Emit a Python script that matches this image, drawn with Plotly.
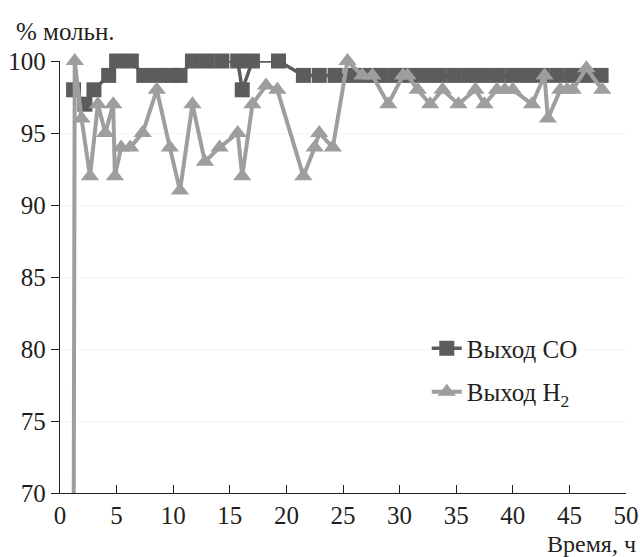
import plotly.graph_objects as go

# ---- data ----
co_time = [1.2, 2.2, 3.0, 4.3, 5.0, 6.3, 7.4, 8.7, 9.9, 10.6, 11.7, 13.0, 14.3, 15.7, 16.1, 17.0, 19.3,
           21.5, 22.9, 24.3, 25.7, 27.0, 28.3, 29.6, 30.9, 32.2, 33.5, 34.8, 36.1, 37.4, 38.7, 40.0,
           41.3, 42.6, 43.9, 45.2, 46.5, 47.8]
co_yield = [98, 97, 98, 99, 100, 100, 99, 99, 99, 99, 100, 100, 100, 100, 98, 100, 100,
            99, 99, 99, 99, 99, 99, 99, 99, 99, 99, 99, 99, 99, 99, 99,
            99, 99, 99, 99, 99, 99]

h2_time = [1.2, 1.3, 1.9, 2.65, 3.35, 4.0, 4.7, 4.85, 5.4, 6.2, 7.3, 8.55, 9.7, 10.6, 11.7, 12.8, 14.1,
           15.7, 16.1, 17.0, 18.2, 19.2, 21.5, 22.5, 22.9, 24.1, 25.4, 26.7, 27.6, 29.0, 30.3, 30.7,
           31.6, 32.7, 33.8, 35.2, 36.7, 37.5, 38.6, 39.3, 40.0, 41.7, 42.8, 43.1, 44.2, 44.8, 45.3,
           46.5, 47.9]
h2_yield = [65, 100, 96, 92, 97, 95, 97, 92, 94, 94, 95, 98, 94, 91, 97, 93, 94,
            95, 92, 97, 98.3, 98, 92, 94, 95, 94, 100, 99, 99, 97, 99, 99,
            98, 97, 98, 97, 98, 97, 98, 98, 98, 97, 99, 96, 98, 98, 98,
            99.5, 98]

x_ticks = [0, 5, 10, 15, 20, 25, 30, 35, 40, 45, 50]
y_ticks = [70, 75, 80, 85, 90, 95, 100]

series_names = ["Выход CO", "Выход H<sub>2</sub>"]
y_title = "% мольн."
x_title = "Время, ч"

# ---- style ----
FONT = "Liberation Serif"
FS = 25
TXT = "#231f20"
CO_COLOR = "#5c5c5c"
H2_COLOR = "#9e9e9e"

fig = go.Figure()
fig.add_trace(go.Scatter(
    x=co_time, y=co_yield, name=series_names[0], mode="lines+markers",
    line=dict(color=CO_COLOR, width=3.5),
    marker=dict(symbol="square", size=15, color=CO_COLOR, line=dict(width=0)),
    cliponaxis=False, legendgroup="a",
))
fig.add_trace(go.Scatter(
    x=h2_time, y=h2_yield, name=series_names[1], mode="lines+markers",
    line=dict(color=H2_COLOR, width=4),
    marker=dict(symbol="triangle-up", size=16, color=H2_COLOR, line=dict(width=0)),
    cliponaxis=False, legendgroup="b",
))

fig.update_layout(
    width=640, height=557,
    margin=dict(l=60, r=14, t=61, b=64),
    paper_bgcolor="white", plot_bgcolor="white",
    font=dict(family=FONT, size=FS, color=TXT),
    showlegend=True,
    legend=dict(x=0.648, y=0.388, xanchor="left", yanchor="top",
                font=dict(family=FONT, size=FS, color=TXT),
                bgcolor="rgba(0,0,0,0)", tracegroupgap=8, traceorder="grouped"),
    xaxis=dict(range=[0, 50], tickvals=x_ticks, ticktext=[str(v) for v in x_ticks],
               ticks="inside", ticklen=8, tickcolor="#231f20", tickwidth=1,
               showline=True, linecolor="#231f20", linewidth=1.3, automargin=False,
               showgrid=False, zeroline=False, ticklabelstandoff=0,
               tickfont=dict(family=FONT, size=FS, color=TXT)),
    yaxis=dict(range=[70, 100], tickvals=y_ticks, ticktext=[str(v) for v in y_ticks],
               ticks="outside", ticklen=8, tickcolor="#231f20", tickwidth=1,
               showline=True, linecolor="#231f20", linewidth=1.3, automargin=False,
               showgrid=True, gridcolor="#f4f4f4", gridwidth=1, zeroline=False,
               tickfont=dict(family=FONT, size=FS, color=TXT)),
    annotations=[
        dict(text=y_title, xref="paper", yref="paper", x=0, y=1.0, xshift=-46, yshift=30,
             xanchor="left", yanchor="middle", showarrow=False,
             font=dict(family=FONT, size=FS, color=TXT)),
        dict(text=x_title, xref="paper", yref="paper", x=1.0, y=0, xshift=12, yshift=-51,
             xanchor="right", yanchor="middle", showarrow=False,
             font=dict(family=FONT, size=24, color=TXT)),
    ],
)

fig.write_html("out.html")
